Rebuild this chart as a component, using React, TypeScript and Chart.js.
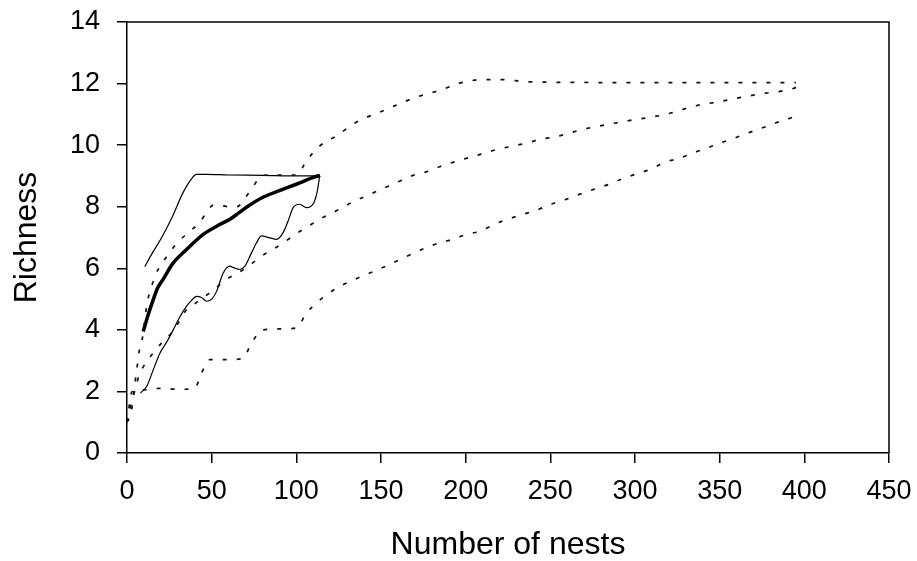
import React, { useEffect, useRef } from "react";
import { Chart, registerables } from "chart.js";

Chart.register(...registerables);

// Axis ranges / ticks
const xMin = 0;
const xMax = 450;
const xStep = 50;
const yMin = 0;
const yMax = 14;
const yStep = 2;
const xTitle = "Number of nests";
const yTitle = "Richness";

// Solid series (smaller sample, ~115 nests)
const solidUpperX = [10.5, 15, 20, 27, 33, 38, 41, 47, 60, 80, 100, 114];
const solidUpperY = [6.05, 6.5, 6.95, 7.7, 8.45, 8.9, 9.05, 9.05, 9.03, 9.02, 9.0, 9.0];

const solidMeanX = [9.6, 12, 15.5, 18, 21.4, 27, 35, 45, 55, 61, 66, 71, 80, 90, 100, 110, 114];
const solidMeanY = [3.95, 4.4, 4.98, 5.35, 5.65, 6.15, 6.6, 7.1, 7.43, 7.6, 7.8, 8.0, 8.3, 8.52, 8.73, 8.95, 9.02];

const solidLowerX = [8, 11.6, 15.5, 19.5, 23.4, 27.3, 31, 35.2, 38, 41.1, 44, 47, 50, 52.9, 56.8, 60.7, 63, 66.6, 69.6, 73.5, 76.5, 79.4, 84.3, 88.3, 92.2, 95.1, 98.1, 102, 106, 109.8, 112.2, 113.8];
const solidLowerY = [1.95, 2.16, 2.7, 3.25, 3.6, 4.0, 4.4, 4.77, 4.95, 5.09, 5.05, 4.93, 5.0, 5.25, 5.85, 6.07, 6.02, 5.96, 6.07, 6.5, 6.83, 7.05, 6.99, 6.94, 7.16, 7.53, 7.97, 8.08, 7.97, 8.08, 8.46, 9.0];

// Dotted series (larger sample, ~395 nests)
const dotUpperX = [0, 1, 3, 4, 5, 6, 7, 9, 12, 14.5, 16.5, 20, 25, 30, 36, 43, 48, 51, 55, 60, 65, 70, 73.5, 77, 80, 90, 100, 106, 111.8, 116.7, 124.6, 132.5, 139.3, 149.2, 159, 167.9, 176.7, 186.1, 194.4, 200.3, 209.1, 222, 235.6, 260, 300, 350, 395];
const dotUpperY = [1.0, 1.1, 1.5, 2.0, 2.4, 2.8, 3.25, 3.7, 4.9, 5.4, 5.75, 6.1, 6.5, 6.85, 7.15, 7.5, 7.9, 8.05, 8.05, 8.0, 8.0, 8.3, 8.57, 8.85, 9.02, 9.03, 9.03, 9.49, 9.87, 10.09, 10.33, 10.65, 10.85, 11.07, 11.3, 11.5, 11.66, 11.8, 11.99, 12.06, 12.13, 12.13, 12.06, 12.04, 12.03, 12.03, 12.03];

const dotMeanX = [0, 3, 5, 7, 9.6, 15.5, 20.4, 26.3, 30, 35.2, 40, 50, 58.8, 70, 79.4, 90.2, 101, 108.9, 115.7, 125.6, 132.5, 141.3, 150.2, 159, 167.9, 176.7, 184.6, 192.4, 200.3, 209.1, 217.9, 226.8, 235.6, 244.5, 251.4, 259.3, 268.1, 276.9, 295.6, 308.4, 318.2, 335.9, 349.6, 359.5, 367.3, 377.2, 385, 393.9, 396];
const dotMeanY = [1.0, 1.7, 2.1, 2.5, 2.8, 3.25, 3.57, 3.9, 4.2, 4.66, 4.85, 5.25, 5.64, 6.0, 6.39, 6.75, 7.16, 7.43, 7.65, 7.92, 8.13, 8.35, 8.57, 8.78, 9.0, 9.13, 9.3, 9.44, 9.57, 9.71, 9.85, 9.96, 10.06, 10.2, 10.25, 10.36, 10.5, 10.6, 10.79, 10.9, 11.0, 11.28, 11.41, 11.52, 11.6, 11.69, 11.74, 11.85, 11.9];

const dotLowerX = [0, 3, 10, 19.5, 31, 40, 44, 49, 60.7, 68.6, 73.5, 80.4, 90.2, 100, 106, 111.8, 116.7, 124.6, 137, 150, 163, 176.7, 184.6, 192.4, 200.3, 209.1, 216.9, 224.8, 233.6, 241.5, 250.3, 259.3, 267.1, 275.9, 284.8, 292.6, 300.5, 309.4, 317.2, 326.1, 334.9, 341.8, 349.6, 358.5, 366.3, 374.2, 383, 391.3, 395];
const dotLowerY = [1.0, 2.0, 2.05, 2.1, 2.07, 2.1, 2.6, 3.03, 3.03, 3.08, 3.57, 4.0, 4.03, 4.06, 4.55, 4.87, 5.09, 5.38, 5.7, 6.0, 6.33, 6.67, 6.83, 6.94, 7.1, 7.21, 7.43, 7.59, 7.75, 7.88, 8.08, 8.24, 8.4, 8.57, 8.73, 8.91, 9.06, 9.22, 9.44, 9.57, 9.76, 9.89, 10.06, 10.22, 10.39, 10.54, 10.72, 10.87, 10.95];

const zip = (xs: number[], ys: number[]) => xs.map((x, i) => ({ x, y: ys[i] }));

const FONT = "'Liberation Sans', Arial, Helvetica, sans-serif";

const framePlugin = {
  id: "frame",
  afterDatasetsDraw(chart: any) {
    const { ctx, chartArea } = chart;
    ctx.save();
    ctx.strokeStyle = "#000";
    ctx.lineWidth = 1.5;
    ctx.beginPath();
    ctx.moveTo(chartArea.left, chartArea.top);
    ctx.lineTo(chartArea.right, chartArea.top);
    ctx.lineTo(chartArea.right, chartArea.bottom);
    ctx.stroke();
    ctx.restore();
  },
};

export default function App() {
  const ref = useRef<HTMLCanvasElement | null>(null);

  useEffect(() => {
    if (!ref.current) return;
    const dotted = {
      borderColor: "#111",
      borderWidth: 1.7,
      borderDash: [4, 10],
      pointRadius: 0,
      cubicInterpolationMode: "monotone" as const,
      fill: false,
    };
    const solidThin = {
      borderColor: "#000",
      borderWidth: 1.2,
      pointRadius: 0,
      cubicInterpolationMode: "monotone" as const,
      fill: false,
    };
    const chart = new Chart(ref.current, {
      type: "line",
      data: {
        datasets: [
          { ...dotted, label: "dotted upper", data: zip(dotUpperX, dotUpperY) },
          { ...dotted, label: "dotted mean", data: zip(dotMeanX, dotMeanY) },
          { ...dotted, label: "dotted lower", data: zip(dotLowerX, dotLowerY) },
          { ...solidThin, label: "solid upper", data: zip(solidUpperX, solidUpperY) },
          { ...solidThin, label: "solid lower", data: zip(solidLowerX, solidLowerY) },
          {
            label: "solid mean",
            data: zip(solidMeanX, solidMeanY),
            borderColor: "#000",
            borderWidth: 3.5,
            pointRadius: 0,
            cubicInterpolationMode: "monotone",
            fill: false,
          },
        ],
      },
      options: {
        responsive: false,
        animation: false,
        layout: { padding: { top: 22, right: 28, left: 0, bottom: 0 } },
        plugins: {
          legend: { display: false },
          tooltip: { enabled: false },
        },
        scales: {
          x: {
            type: "linear",
            min: xMin,
            max: xMax,
            ticks: {
              stepSize: xStep,
              color: "#000",
              font: { family: FONT, size: 27 },
              padding: 12,
              maxRotation: 0,
            },
            grid: {
              drawOnChartArea: false,
              drawTicks: true,
              tickLength: 10,
              color: "#000",
              lineWidth: 1.5,
            },
            border: { color: "#000", width: 1.5 },
            title: {
              display: true,
              text: xTitle,
              color: "#000",
              font: { family: FONT, size: 32, lineHeight: 1 },
              padding: { top: 0, bottom: 0 },
            },
            afterFit: (scale: any) => {
              scale.height = 108;
              scale.paddingLeft = 0;
              scale.paddingRight = 0;
            },
          },
          y: {
            type: "linear",
            min: yMin,
            max: yMax,
            ticks: {
              stepSize: yStep,
              color: "#000",
              font: { family: FONT, size: 27 },
              padding: 17,
            },
            grid: {
              drawOnChartArea: false,
              drawTicks: true,
              tickLength: 10,
              color: "#000",
              lineWidth: 1.5,
            },
            border: { color: "#000", width: 1.5 },
            title: {
              display: true,
              text: yTitle,
              color: "#000",
              font: { family: FONT, size: 32, lineHeight: 1 },
              padding: { top: 11, bottom: 0 },
            },
            afterFit: (scale: any) => {
              scale.width = 127;
              scale.paddingTop = 0;
              scale.paddingBottom = 0;
            },
          },
        },
      },
      plugins: [framePlugin],
    });
    return () => chart.destroy();
  }, []);

  return (
    <div style={{ position: "fixed", left: 0, top: 0, width: 917, height: 561, background: "#fff" }}>
      <canvas ref={ref} width={917} height={561} style={{ display: "block" }} />
    </div>
  );
}
